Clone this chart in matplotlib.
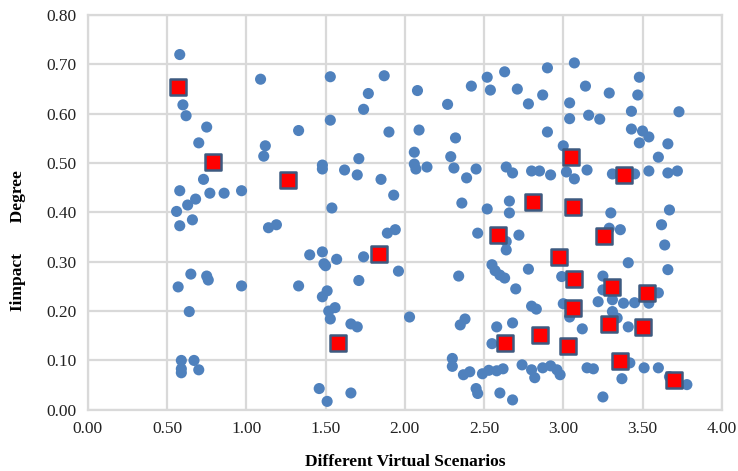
import matplotlib
matplotlib.use('agg')
import matplotlib.pyplot as plt

# 所有场景的点 (蓝色圆点)
circle_x = [0.58, 0.60, 0.62, 0.75, 0.70, 0.73, 0.58, 0.77, 0.86, 0.97, 0.68, 0.63, 0.56, 0.58, 0.66,
            0.65, 0.57, 0.75, 0.76, 0.97, 0.64, 0.59, 0.67, 0.59, 0.59, 0.70,
            1.09, 1.53, 1.87, 1.77, 1.74, 2.08, 2.27, 2.42, 2.52, 2.54, 1.53, 1.33, 1.90, 2.09, 2.32,
            1.12, 1.11, 2.06, 1.71, 2.29, 1.48, 1.48, 1.62, 1.70, 2.06, 2.07, 2.14, 2.31, 2.45, 2.39,
            1.85, 1.93, 2.36, 1.54, 2.52, 1.14, 1.19, 1.89, 1.94, 2.46, 1.40, 1.48, 1.49, 1.50, 1.57,
            1.74, 1.96, 1.71, 1.33, 1.51, 1.48, 2.34, 1.56, 1.52, 1.53, 1.66, 1.70, 2.03, 2.35, 2.38,
            2.55, 2.30, 2.30, 2.37, 2.41, 2.49, 2.53, 2.58, 2.62, 2.45, 2.46, 1.46, 1.51, 1.66,
            2.90, 3.07, 2.63, 2.71, 2.87, 2.78, 3.14, 3.29, 3.48, 3.47, 3.04, 3.04, 3.16, 3.23, 3.43,
            3.73, 2.90, 3.43, 3.50, 3.54, 3.48, 3.66, 3.00, 3.60, 2.64, 2.68, 2.80, 2.85, 2.92, 3.02,
            3.07, 3.15, 3.31, 3.45, 3.54, 3.66, 3.72, 2.66, 2.66, 3.30, 3.67, 3.62, 3.64, 3.66, 2.64,
            2.64, 2.72, 3.36, 3.29, 2.78, 2.55, 2.57, 2.60, 2.63, 2.70, 2.99, 3.41, 3.25, 3.25, 3.60,
            3.54, 3.22, 3.31, 3.38, 3.45, 3.31, 2.80, 2.83, 3.00, 3.04, 3.34, 3.41, 3.12, 2.58, 2.68,
            3.42, 3.51, 3.60, 3.78, 3.67, 3.37, 3.25, 2.74, 2.80, 2.82, 2.87, 2.92, 2.96, 2.98, 3.15,
            3.19, 2.60, 2.68]
circle_y = [0.720, 0.618, 0.596, 0.573, 0.541, 0.467, 0.444, 0.439, 0.439, 0.444, 0.427, 0.415, 0.402, 0.373, 0.385,
            0.275, 0.249, 0.271, 0.263, 0.251, 0.199, 0.100, 0.100, 0.083, 0.075, 0.081,
            0.670, 0.675, 0.677, 0.641, 0.609, 0.647, 0.619, 0.656, 0.674, 0.648, 0.587, 0.566, 0.563, 0.567, 0.551,
            0.535, 0.514, 0.522, 0.509, 0.513, 0.496, 0.488, 0.486, 0.476, 0.498, 0.488, 0.492, 0.490, 0.488, 0.470,
            0.467, 0.435, 0.419, 0.409, 0.407, 0.369, 0.375, 0.358, 0.365, 0.358, 0.314, 0.320, 0.296, 0.292, 0.305,
            0.310, 0.281, 0.262, 0.251, 0.241, 0.229, 0.271, 0.207, 0.200, 0.184, 0.174, 0.168, 0.188, 0.172, 0.184,
            0.134, 0.104, 0.088, 0.071, 0.077, 0.073, 0.080, 0.079, 0.083, 0.043, 0.033, 0.043, 0.017, 0.034,
            0.693, 0.703, 0.685, 0.650, 0.638, 0.620, 0.656, 0.642, 0.674, 0.638, 0.622, 0.590, 0.597, 0.589, 0.605,
            0.604, 0.563, 0.569, 0.565, 0.553, 0.541, 0.539, 0.535, 0.512, 0.492, 0.480, 0.484, 0.484, 0.476, 0.482,
            0.468, 0.486, 0.478, 0.478, 0.484, 0.480, 0.484, 0.423, 0.399, 0.399, 0.405, 0.375, 0.334, 0.284, 0.341,
            0.324, 0.354, 0.365, 0.368, 0.285, 0.294, 0.282, 0.273, 0.267, 0.245, 0.270, 0.298, 0.271, 0.243, 0.237,
            0.216, 0.219, 0.223, 0.216, 0.217, 0.199, 0.210, 0.204, 0.215, 0.188, 0.186, 0.168, 0.164, 0.168, 0.176,
            0.095, 0.085, 0.085, 0.051, 0.067, 0.063, 0.026, 0.091, 0.081, 0.065, 0.085, 0.089, 0.081, 0.071, 0.085,
            0.083, 0.034, 0.020]

# 选中的场景 (红色方块)
square_x = [0.57, 0.79, 1.26, 1.84, 1.58, 2.81, 3.05, 3.06, 3.38, 2.59, 3.26, 2.97,
            3.07, 3.31, 3.53, 3.06, 3.29, 3.50, 2.63, 2.85, 3.03, 3.36, 3.70]
square_y = [0.655, 0.503, 0.466, 0.316, 0.135, 0.421, 0.512, 0.411, 0.476, 0.355, 0.353, 0.310,
            0.265, 0.249, 0.237, 0.206, 0.174, 0.168, 0.136, 0.152, 0.130, 0.099, 0.061]

x_ticks = [0.0, 0.5, 1.0, 1.5, 2.0, 2.5, 3.0, 3.5, 4.0]
y_ticks = [0.0, 0.1, 0.2, 0.3, 0.4, 0.5, 0.6, 0.7, 0.8]

plt.rcParams['font.family'] = ['Liberation Serif', 'DejaVu Serif']

fig = plt.figure(figsize=(7.38, 4.71), dpi=100)
ax = fig.add_axes([0.119, 0.130, 0.859, 0.838])

ax.scatter(circle_x, circle_y, s=64, color='#4F81BD', edgecolors='none', zorder=3)
ax.scatter(square_x, square_y, s=118, marker='s', color='#FF0000',
           edgecolors='#3D5A80', linewidths=1.8, zorder=4)

ax.set_xlim(0, 4)
ax.set_ylim(0, 0.8)
ax.set_xticks(x_ticks)
ax.set_yticks(y_ticks)
ax.set_xticklabels([f"{v:.2f}" for v in x_ticks])
ax.set_yticklabels([f"{v:.2f}" for v in y_ticks])
ax.tick_params(length=0, labelsize=12.5, pad=8, colors='#222222')

ax.grid(True, color='#D9D9D9', linewidth=1.6, zorder=0)
ax.set_axisbelow(True)
for sp in ax.spines.values():
    sp.set_color('#D9D9D9')
    sp.set_linewidth(1.6)

ax.set_xlabel('Different Virtual Scenarios', fontsize=12.5, fontweight='bold', labelpad=12)
fig.text(0.025, 0.49, 'Iimpact       Degree', rotation=90, fontsize=12.5,
         fontweight='bold', ha='center', va='center')

plt.savefig('out.png', dpi=100)
